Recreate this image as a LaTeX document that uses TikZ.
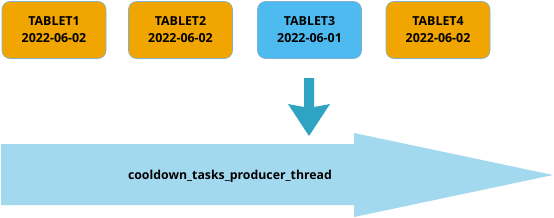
\documentclass[tikz,border=0pt]{standalone}
\usepackage{fontspec}
\setmainfont{Open Sans}
\definecolor{tabor}{HTML}{F0A500}
\definecolor{tabblue}{HTML}{4DBBF0}
\definecolor{tabedge}{HTML}{7FB0D0}
\definecolor{bigarrow}{HTML}{A3D9EF}
\definecolor{downarrow}{HTML}{2EA3C2}
\begin{document}
\begin{tikzpicture}[x=1pt,y=-1pt,
  tablet/.style={draw=tabedge,line width=0.6pt,rounded corners=8pt,minimum width=104pt,minimum height=57pt,inner sep=0pt,align=center,font=\fontsize{12.4}{17}\selectfont\bfseries},
  lbl/.style={font=\fontsize{12.3}{14}\selectfont\bfseries}]
\useasboundingbox (0,0) rectangle (554,217);
\node[tablet,fill=tabor] (t1) at (54,30) {TABLET1\\2022-06-02};
\node[tablet,fill=tabor] (t2) at (180.5,30) {TABLET2\\2022-06-02};
\node[tablet,fill=tabblue] (t3) at (309.5,30) {TABLET3\\2022-06-01};
\node[tablet,fill=tabor] (t4) at (438,30) {TABLET4\\2022-06-02};
% big arrow
\fill[bigarrow] (1,144) -- (354,144) -- (354,133) -- (553,175) -- (354,217) -- (354,205) -- (1,205) -- cycle;
\node[lbl] (thr) at (230,176) {cooldown\_tasks\_producer\_thread};
% down arrow
\fill[downarrow] (304,78) -- (314,78) -- (314,107) -- (330,104) -- (309,136) -- (288,104) -- (304,107) -- cycle;
\end{tikzpicture}
\end{document}
